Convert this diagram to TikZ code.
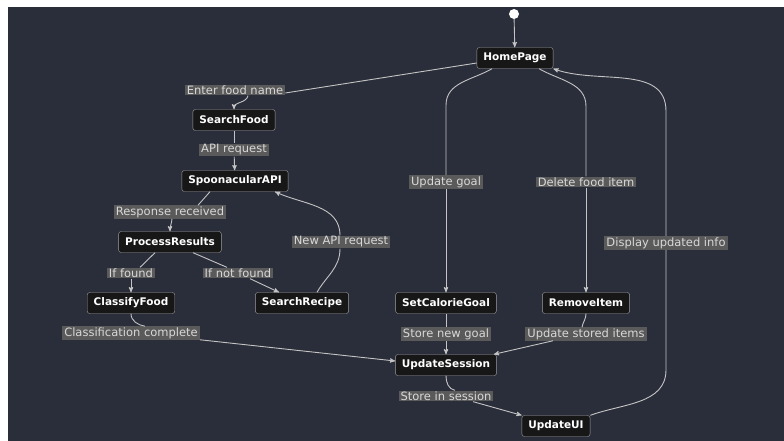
\documentclass[tikz,border=0pt]{standalone}
\usepackage{fontspec}
\setmainfont{DejaVu Sans}
\usetikzlibrary{arrows}
\definecolor{bgdark}{HTML}{2A2E3A}
\definecolor{boxfill}{HTML}{171717}
\definecolor{boxline}{HTML}{A0A0A0}
\definecolor{labelfill}{HTML}{5A5A5A}
\definecolor{labeltext}{HTML}{D8D8D8}
\definecolor{flowline}{HTML}{C4C4C4}

\begin{document}
\begin{tikzpicture}[x=1pt, y=-1pt,
    screen/.style={draw=boxline, fill=boxfill, rounded corners=2.5pt, text=white, font=\fontsize{10.5}{12}\selectfont\bfseries, minimum height=21pt, inner xsep=6.5pt},
    edgelabel/.style={fill=labelfill, text=labeltext, font=\fontsize{11.5}{13}\selectfont, inner xsep=2pt, inner ysep=1pt},
    flow/.style={draw=flowline, line width=0.9pt},
    >=stealth']
        \useasboundingbox (0,0) rectangle (784,441);
        \fill[white] (0,0) rectangle (784,441);
        \fill[bgdark] (8,7) rectangle (784,441);

        \node[circle, fill=white, minimum size=10pt, inner sep=0pt] (start) at (514,14) {};
        \node[screen] (home) at (515,58) {HomePage};
        \node[screen] (searchfood) at (234,120) {SearchFood};
        \node[screen] (spoon) at (235,181) {SpoonacularAPI};
        \node[screen] (process) at (170,242) {ProcessResults};
        \node[screen] (classify) at (131,303) {ClassifyFood};
        \node[screen] (recipe) at (302,303) {SearchRecipe};
        \node[screen] (setgoal) at (446,303) {SetCalorieGoal};
        \node[screen] (remove) at (586,303) {RemoveItem};
        \node[screen] (session) at (446,365) {UpdateSession};
        \node[screen] (updateui) at (556,426) {UpdateUI};

        \node[edgelabel] (lenter) at (235,90) {Enter food name};
        \node[edgelabel] (lapi) at (234,150) {API request};
        \node[edgelabel] (lresp) at (170,212) {Response received};
        \node[edgelabel] (lfound) at (131,273) {If found};
        \node[edgelabel] (lnotfound) at (238,273) {If not found};
        \node[edgelabel] (lnewapi) at (341,242) {New API request};
        \node[edgelabel] (lclass) at (131,333) {Classification complete};
        \node[edgelabel] (lgoal) at (446,182) {Update goal};
        \node[edgelabel] (ldelete) at (586,182) {Delete food item};
        \node[edgelabel] (ldisplay) at (666,243) {Display updated info};
        \node[edgelabel] (lstoregoal) at (446,334) {Store new goal};
        \node[edgelabel] (lstored) at (586,334) {Update stored items};
        \node[edgelabel] (lsession) at (446,396) {Store in session};

        \draw[flow, ->] (start) -- (home);

        \draw[flow] ([yshift=-5pt]home.west) -- ([yshift=-3pt]lenter.east);
        \draw[flow, ->] ([xshift=13pt]lenter.south) to[out=-100, in=90] (searchfood.north);

        \draw[flow] (searchfood) -- (lapi);
        \draw[flow, ->] (lapi) -- (spoon);

        \draw[flow] ([xshift=-25pt]spoon.south) -- ([xshift=28pt]lresp.north);
        \draw[flow, ->] ([xshift=2pt]lresp.south) to[out=-95, in=90] (process.north);

        \draw[flow] ([xshift=-15pt]process.south) -- ([xshift=9pt]lfound.north);
        \draw[flow, ->] (lfound.south) -- (classify.north);

        \draw[flow] ([xshift=23pt]process.south) -- ([xshift=-11pt]lnotfound.north);
        \draw[flow, ->] ([xshift=12pt]lnotfound.south) -- ([xshift=-23pt]recipe.north);

        \draw[flow] ([xshift=15pt]recipe.north) to[out=60, in=-90] ([xshift=-1pt]lnewapi.south);
        \draw[flow, ->] ([xshift=-1pt]lnewapi.north) to[out=90, in=-25] ([xshift=40pt]spoon.south);

        \draw[flow] (classify.south) to[out=-90, in=170] ([xshift=14pt]lclass.north);
        \draw[flow, ->] (lclass.south east) -- ([yshift=4pt]session.west);

        \draw[flow] ([xshift=-23pt]home.south) to[out=-150, in=90] ([yshift=70pt]lgoal.north) -- (lgoal.north);
        \draw[flow, ->] (lgoal.south) -- (setgoal.north);

        \draw[flow] ([xshift=24pt]home.south) to[out=-30, in=90] ([yshift=70pt]ldelete.north) -- (ldelete.north);
        \draw[flow, ->] (ldelete.south) -- (remove.north);

        \draw[flow] (updateui.north east) to[out=20, in=-90] ([yshift=-120pt]ldisplay.south) -- (ldisplay.south);
        \draw[flow, ->] (ldisplay.north) -- ([yshift=125pt]ldisplay.north) to[out=90, in=-20] (home.south east);

        \draw[flow] (setgoal) -- (lstoregoal);
        \draw[flow, ->] (lstoregoal) -- (session);

        \draw[flow] (remove.south) to[out=-90, in=80] ([xshift=-4pt]lstored.north);
        \draw[flow, ->] ([xshift=-33pt]lstored.south) -- ([xshift=-3pt]session.north east);

        \draw[flow] (session.south) to[out=-90, in=170] ([xshift=9pt]lsession.north);
        \draw[flow, ->] ([xshift=27pt]lsession.south) -- (updateui.north west);
    \end{tikzpicture}
\end{document}
